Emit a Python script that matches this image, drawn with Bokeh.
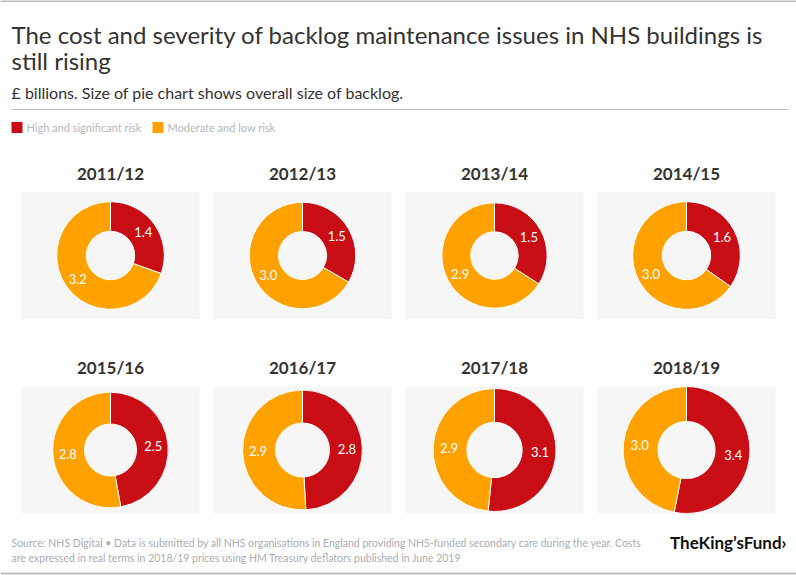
import math
from bokeh.plotting import figure
from bokeh.models import Range1d, ColumnDataSource
from bokeh.core.properties import value
from bokeh.embed import file_html
from bokeh.resources import INLINE

# ---- data ----
years = ["2011/12", "2012/13", "2013/14", "2014/15",
         "2015/16", "2016/17", "2017/18", "2018/19"]
high_risk = [1.4, 1.5, 1.5, 1.6, 2.5, 2.8, 3.1, 3.4]
moderate_risk = [3.2, 3.0, 2.9, 3.0, 2.8, 2.9, 2.9, 3.0]
series_names = ["High and significant risk", "Moderate and low risk"]
series_colors = ["#c80d14", "#ffa200"]

TITLE1 = "The cost and severity of backlog maintenance issues in NHS buildings is"
TITLE2 = "still rising"
SUBTITLE = "£ billions. Size of pie chart shows overall size of backlog."
SOURCE1 = ("Source: NHS Digital • Data is submitted by all NHS organisations in England providing "
           "NHS-funded secondary care during the year. Costs")
SOURCE2 = "are expressed in real terms in 2018/19 prices using HM Treasury deflators published in June 2019"

FONT = "Lato"
W, H = 796, 575


def Y(y):
    return H - y


p = figure(width=W, height=H, x_range=Range1d(0, W), y_range=Range1d(0, H),
           output_backend="svg", toolbar_location=None, min_border=0,
           x_axis_type=None, y_axis_type=None)
p.grid.visible = False
p.outline_line_color = None
p.background_fill_color = "white"
p.border_fill_color = "white"

# top and bottom rules
p.segment(x0=[0, 11, 0], y0=[Y(0.5), Y(109), Y(573)], x1=[W, 787, W], y1=[Y(0.5), Y(109), Y(573)],
          line_color=["#b9bdc1", "#b9bdc1", "#b9bdc1"], line_width=[2, 1, 2])

# titles
p.text(x=[11, 11], y=[Y(34), Y(60)], text=[TITLE1, TITLE2], text_font=value(FONT),
       text_font_size="24px", text_color="#333333", text_baseline="middle")
p.text(x=[11], y=[Y(92)], text=[SUBTITLE], text_font=value(FONT),
       text_font_size="16px", text_color="#333333", text_baseline="middle")

# legend
leg_x = [11, 152]
p.rect(x=[lx + 5.5 for lx in leg_x], y=[Y(127)] * 2, width=11, height=11,
       fill_color=series_colors, line_color=None)
p.text(x=[lx + 15 for lx in leg_x], y=[Y(127)] * 2, text=series_names, text_font=value(FONT),
       text_font_size="11px", text_color="#b4b8bc", text_baseline="middle")

# panels and donuts
cols = 4
panel_w, panel_h = 178, 127
row_tops = [191.5, 386]
max_total = max(h + m for h, m in zip(high_risk, moderate_risk))
R_MAX = 63.5
HOLE = 0.45

px, py, cx, cy, tx, ty = [], [], [], [], [], []
for i, yr in enumerate(years):
    c, r = i % cols, i // cols
    x0 = 21 + 192 * c
    top = row_tops[r]
    px.append(x0 + panel_w / 2)
    py.append(Y(top + panel_h / 2))
    cx.append(x0 + panel_w / 2)
    cy.append(Y(top + panel_h / 2))
    tx.append(x0 + panel_w / 2)
    ty.append(Y(top - 19))

p.rect(x=px, y=py, width=panel_w, height=panel_h, fill_color="#f6f6f6", line_color=None)
p.text(x=tx, y=ty, text=years, text_font=value(FONT), text_font_style="bold",
       text_font_size="17px", text_color="#333333", text_align="center", text_baseline="middle")

wx, wy, wri, wro, ws, we, wc = [], [], [], [], [], [], []
lx, ly, lt = [], [], []
for i in range(len(years)):
    h, m = high_risk[i], moderate_risk[i]
    total = h + m
    R = R_MAX * math.sqrt(total / max_total)
    ri = R * HOLE
    a_h = 2 * math.pi * h / total
    top_ang = math.pi / 2
    # red: clockwise from 12 o'clock
    wx += [cx[i], cx[i]]
    wy += [cy[i], cy[i]]
    wri += [ri, ri]
    wro += [R, R]
    ws += [top_ang - a_h, top_ang]
    we += [top_ang, top_ang + (2 * math.pi - a_h)]
    wc += series_colors
    rm = (R + ri) / 2 + 1
    mid_h = top_ang - a_h / 2
    mid_m = top_ang + (2 * math.pi - a_h) / 2
    for ang, v in ((mid_h, h), (mid_m, m)):
        lx.append(cx[i] + rm * math.cos(ang))
        ly.append(cy[i] + rm * math.sin(ang))
        lt.append(f"{v:.1f}")

src = ColumnDataSource(dict(x=wx, y=wy, ri=wri, ro=wro, s=ws, e=we, c=wc))
p.annular_wedge(x="x", y="y", inner_radius="ri", outer_radius="ro", start_angle="s",
                end_angle="e", fill_color="c", line_color="white", line_width=1, source=src)
p.text(x=lx, y=ly, text=lt, text_font=value(FONT), text_font_size="13px",
       text_color="white", text_align="center", text_baseline="middle")

# footer
p.text(x=[11, 11], y=[Y(542), Y(557)], text=[SOURCE1, SOURCE2], text_font=value(FONT),
       text_font_size="10.5px", text_color="#a9adb1", text_baseline="middle")
p.text(x=[786], y=[Y(542)], text=["TheKing’sFund›"], text_font=value(FONT),
       text_font_style="bold", text_font_size="17px", text_color="#111111",
       text_align="right", text_baseline="middle")

open("out.html", "w").write(file_html(p, INLINE))
